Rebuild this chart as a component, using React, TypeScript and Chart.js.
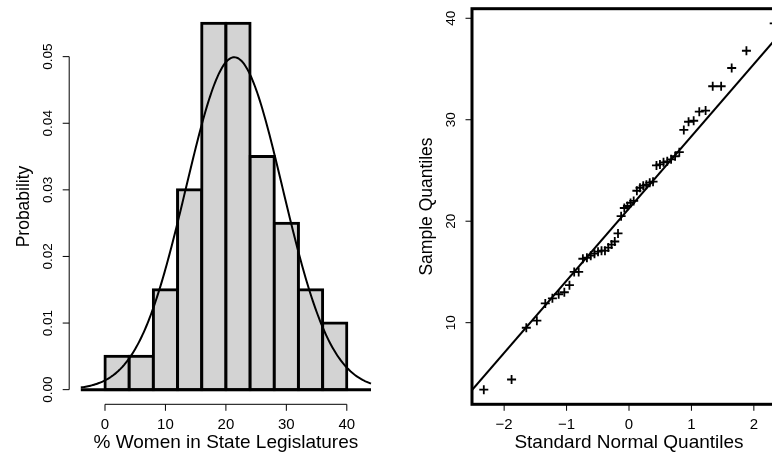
import { useEffect, useRef } from "react";
import { Chart, registerables } from "chart.js";
import type { Plugin } from "chart.js";

Chart.register(...registerables);

// Percentage of women in each of the 50 state legislatures (sorted)
const WOMEN_PCT = [
  3.4, 4.4, 9.5, 10.2, 11.9, 12.4, 12.8, 13.0, 13.7, 15.0,
  15.0, 16.3, 16.4, 16.6, 16.8, 17.0, 17.1, 17.1, 17.4, 17.7,
  18.0, 18.8, 20.5, 21.3, 21.5, 21.8, 22.0, 23.0, 23.3, 23.5,
  23.6, 23.8, 23.9, 25.5, 25.6, 25.8, 25.9, 26.1, 26.4, 26.8,
  29.0, 29.8, 29.9, 30.8, 30.9, 33.3, 33.3, 35.1, 36.8, 39.5,
];

// Histogram bins (width 4) and their densities
const BIN_EDGES = [0, 4, 8, 12, 16, 20, 24, 28, 32, 36, 40];
const BIN_DENSITY = [0.005, 0.005, 0.015, 0.03, 0.055, 0.055, 0.035, 0.025, 0.015, 0.01];

// Standard normal quantiles at plotting positions (i - 0.5) / 50
const NORMAL_QUANTILES = [
  -2.326, -1.881, -1.645, -1.476, -1.341, -1.227, -1.126, -1.036, -0.954, -0.878,
  -0.806, -0.739, -0.674, -0.613, -0.553, -0.496, -0.440, -0.385, -0.332, -0.279,
  -0.228, -0.176, -0.126, -0.075, -0.025, 0.025, 0.075, 0.126, 0.176, 0.228,
  0.279, 0.332, 0.385, 0.440, 0.496, 0.553, 0.613, 0.674, 0.739, 0.806,
  0.878, 0.954, 1.036, 1.126, 1.227, 1.341, 1.476, 1.645, 1.881, 2.326,
];

// Axis ticks and labels
const HIST_X_TICKS = [0, 10, 20, 30, 40];
const HIST_X_LABELS = ["0", "10", "20", "30", "40"];
const HIST_Y_TICKS = [0, 0.01, 0.02, 0.03, 0.04, 0.05];
const HIST_Y_LABELS = ["0.00", "0.01", "0.02", "0.03", "0.04", "0.05"];
const QQ_X_TICKS = [-2, -1, 0, 1, 2];
const QQ_X_LABELS = ["\u22122", "\u22121", "0", "1", "2"];
const QQ_Y_TICKS = [10, 20, 30, 40];
const QQ_Y_LABELS = ["10", "20", "30", "40"];

// Axis limits
const HIST_X_LIMITS = [-5.92, 45.92];
const HIST_Y_LIMITS = [-0.0022, 0.0572];
const CURVE_RANGE = [-4, 44];
const QQ_X_LIMITS = [-2.515, 2.515];
const QQ_Y_LIMITS = [1.956, 40.944];
const QUARTILE_Z = 0.6745;

const FONT = '"Liberation Sans", Arial, Helvetica, sans-serif';
const TICK_LEN = 6.5;

function mean(a: number[]) {
  return a.reduce((s, v) => s + v, 0) / a.length;
}
function stdev(a: number[]) {
  const m = mean(a);
  return Math.sqrt(a.reduce((s, v) => s + (v - m) * (v - m), 0) / (a.length - 1));
}
function quantile7(sorted: number[], p: number) {
  const h = (sorted.length - 1) * p;
  const lo = Math.floor(h);
  const hi = Math.min(lo + 1, sorted.length - 1);
  return sorted[lo] + (h - lo) * (sorted[hi] - sorted[lo]);
}

type AxesSpec = {
  xTicks: number[];
  xLabels: string[];
  yTicks: number[];
  yLabels: string[];
  xTitle: string;
  yTitle: string;
  box: boolean;
};

// Base-graphics style axes: lines span first..last tick, outward ticks, rotated y labels
function baseAxes(spec: AxesSpec): Plugin {
  return {
    id: "baseAxes",
    afterDraw(chart) {
      const { ctx, chartArea: a } = chart;
      const xs = chart.scales.x;
      const ys = chart.scales.y;
      const xp = spec.xTicks.map((v) => xs.getPixelForValue(v));
      const yp = spec.yTicks.map((v) => ys.getPixelForValue(v));
      ctx.save();
      ctx.strokeStyle = "#000";
      ctx.fillStyle = "#000";
      ctx.lineWidth = 1;
      ctx.beginPath();
      ctx.moveTo(xp[0], a.bottom);
      ctx.lineTo(xp[xp.length - 1], a.bottom);
      xp.forEach((p) => {
        ctx.moveTo(p, a.bottom);
        ctx.lineTo(p, a.bottom + TICK_LEN);
      });
      ctx.moveTo(a.left, yp[0]);
      ctx.lineTo(a.left, yp[yp.length - 1]);
      yp.forEach((p) => {
        ctx.moveTo(a.left, p);
        ctx.lineTo(a.left - TICK_LEN, p);
      });
      ctx.stroke();

      if (spec.box) {
        ctx.lineWidth = 3;
        ctx.strokeRect(a.left, a.top, a.right - a.left, a.bottom - a.top);
      }

      ctx.textAlign = "center";
      ctx.textBaseline = "alphabetic";
      ctx.font = `15px ${FONT}`;
      xp.forEach((p, i) => ctx.fillText(spec.xLabels[i], p, a.bottom + 25));
      ctx.font = `13.5px ${FONT}`;
      yp.forEach((p, i) => {
        ctx.save();
        ctx.translate(a.left - 17.3, p);
        ctx.rotate(-Math.PI / 2);
        ctx.fillText(spec.yLabels[i], 0, 0);
        ctx.restore();
      });

      ctx.font = `19px ${FONT}`;
      ctx.fillText(spec.xTitle, (a.left + a.right) / 2, a.bottom + 43.7);
      ctx.font = `17.5px ${FONT}`;
      ctx.save();
      ctx.translate(a.left - 40.5, (a.top + a.bottom) / 2);
      ctx.rotate(-Math.PI / 2);
      ctx.fillText(spec.yTitle, 0, 0);
      ctx.restore();
      ctx.restore();
    },
  };
}

function makeHistogram(canvas: HTMLCanvasElement) {
  const m = mean(WOMEN_PCT);
  const s = stdev(WOMEN_PCT);
  const curve: { x: number; y: number }[] = [];
  for (let x = CURVE_RANGE[0]; x <= CURVE_RANGE[1] + 1e-9; x += 0.2) {
    const z = (x - m) / s;
    curve.push({ x, y: Math.exp(-0.5 * z * z) / (s * Math.sqrt(2 * Math.PI)) });
  }
  const bars = BIN_DENSITY.map((d, i) => ({ x: (BIN_EDGES[i] + BIN_EDGES[i + 1]) / 2, y: d }));

  return new Chart(canvas, {
    type: "bar",
    data: {
      datasets: [
        {
          type: "line",
          data: curve,
          borderColor: "#000",
          borderWidth: 2,
          pointRadius: 0,
          tension: 0,
          order: 0,
        },
        {
          type: "line",
          data: [
            { x: CURVE_RANGE[0], y: 0 },
            { x: CURVE_RANGE[1], y: 0 },
          ],
          borderColor: "#000",
          borderWidth: 3,
          pointRadius: 0,
          order: 1,
        },
        {
          type: "bar",
          data: bars,
          backgroundColor: "#d3d3d3",
          borderColor: "#000",
          borderWidth: 3,
          borderSkipped: false,
          inflateAmount: 1.5,
          barPercentage: 1,
          categoryPercentage: 1,
          order: 2,
        },
      ] as any,
    },
    options: {
      animation: false,
      responsive: false,
      events: [],
      layout: { padding: { left: 69.2, right: 17.4, top: 8.7, bottom: 49.7 } },
      scales: {
        x: {
          type: "linear",
          min: HIST_X_LIMITS[0],
          max: HIST_X_LIMITS[1],
          offset: false,
          display: false,
          ticks: { stepSize: 10, includeBounds: false },
        },
        y: {
          type: "linear",
          min: HIST_Y_LIMITS[0],
          max: HIST_Y_LIMITS[1],
          display: false,
          ticks: { stepSize: 0.01 },
        },
      },
      plugins: { legend: { display: false }, tooltip: { enabled: false } },
    },
    plugins: [
      baseAxes({
        xTicks: HIST_X_TICKS,
        xLabels: HIST_X_LABELS,
        yTicks: HIST_Y_TICKS,
        yLabels: HIST_Y_LABELS,
        xTitle: "% Women in State Legislatures",
        yTitle: "Probability",
        box: false,
      }),
    ],
  });
}

function makeQQ(canvas: HTMLCanvasElement) {
  const q1 = quantile7(WOMEN_PCT, 0.25);
  const q3 = quantile7(WOMEN_PCT, 0.75);
  const slope = (q3 - q1) / (2 * QUARTILE_Z);
  const intercept = q1 + slope * QUARTILE_Z;
  const points = WOMEN_PCT.map((v, i) => ({ x: NORMAL_QUANTILES[i], y: v }));

  return new Chart(canvas, {
    type: "scatter",
    data: {
      datasets: [
        {
          data: points,
          pointStyle: "cross",
          pointRadius: 4.5,
          borderColor: "#000",
          borderWidth: 1.8,
          backgroundColor: "#000",
          order: 0,
        },
        {
          type: "line",
          data: QQ_X_LIMITS.map((x) => ({ x, y: intercept + slope * x })),
          borderColor: "#000",
          borderWidth: 2,
          pointRadius: 0,
          clip: 0,
          order: 1,
        },
      ] as any,
    },
    options: {
      animation: false,
      responsive: false,
      events: [],
      layout: { padding: { left: 72, right: 14, top: 8.7, bottom: 49.7 } },
      scales: {
        x: { type: "linear", min: QQ_X_LIMITS[0], max: QQ_X_LIMITS[1], display: false },
        y: { type: "linear", min: QQ_Y_LIMITS[0], max: QQ_Y_LIMITS[1], display: false },
      },
      plugins: { legend: { display: false }, tooltip: { enabled: false } },
    },
    plugins: [
      baseAxes({
        xTicks: QQ_X_TICKS,
        xLabels: QQ_X_LABELS,
        yTicks: QQ_Y_TICKS,
        yLabels: QQ_Y_LABELS,
        xTitle: "Standard Normal Quantiles",
        yTitle: "Sample Quantiles",
        box: true,
      }),
    ],
  });
}

export default function App() {
  const histRef = useRef<HTMLCanvasElement>(null);
  const qqRef = useRef<HTMLCanvasElement>(null);

  useEffect(() => {
    const charts = [makeHistogram(histRef.current!), makeQQ(qqRef.current!)];
    return () => charts.forEach((c) => c.destroy());
  }, []);

  return (
    <div
      style={{
        position: "absolute",
        left: 0,
        top: 0,
        width: 772,
        height: 454,
        overflow: "hidden",
        background: "#fff",
      }}
    >
      <canvas ref={histRef} width={400} height={454} style={{ position: "absolute", left: 0, top: 0 }} />
      <canvas ref={qqRef} width={400} height={454} style={{ position: "absolute", left: 400, top: 0 }} />
    </div>
  );
}
